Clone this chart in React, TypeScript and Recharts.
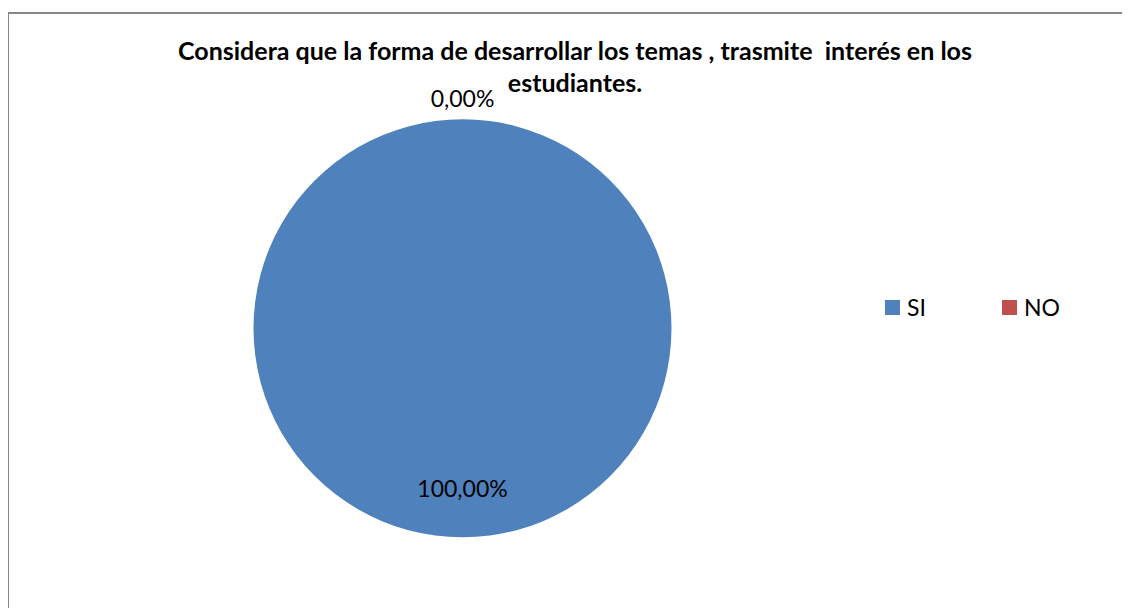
import { PieChart, Pie, Cell, Legend } from 'recharts'

// respuestas de la encuesta
const categories = ['SI', 'NO']
const values = [100, 0]
const colors = ['#4F81BD', '#C0504D']
const titleLines = [
  'Considera que la forma de desarrollar los temas , trasmite  interés en los',
  'estudiantes.',
]

const data = categories.map((name, i) => ({ name, value: values[i] }))
const total = values.reduce((a, b) => a + b, 0)
const RADIAN = Math.PI / 180
const font = 'Lato, "Open Sans", sans-serif'

function renderLabel(props: any) {
  const { cx, cy, midAngle, outerRadius, value, index } = props
  // SI va dentro del sector, NO fuera (sector vacio)
  const r = index === 0 ? outerRadius * 0.805 : outerRadius + 12.6
  const x = cx + r * Math.cos(-midAngle * RADIAN)
  const y = cy + r * Math.sin(-midAngle * RADIAN)
  const pct = ((value / total) * 100).toFixed(2).replace('.', ',') + '%'
  return (
    <text
      key={'lbl-' + index}
      x={x}
      y={y}
      textAnchor="middle"
      fill="#000"
      fontSize={23}
      fontFamily={font}
    >
      {pct}
    </text>
  )
}

function LegendContent(props: any) {
  const { payload = [] } = props
  // mantener el orden original SI, NO
  const items = categories
    .map((c) => payload.find((p: any) => p.value === c))
    .filter(Boolean)
  return (
    <div style={{ display: 'flex', fontFamily: font, fontSize: 23 }}>
      {items.map((p: any) => (
        <div
          key={p.value}
          style={{ width: 117, display: 'flex', alignItems: 'center' }}
        >
          <span
            style={{
              width: 15,
              height: 15,
              background: p.color,
              display: 'inline-block',
              marginRight: 7,
            }}
          />
          <span style={{ lineHeight: '24px' }}>{p.value}</span>
        </div>
      ))}
    </div>
  )
}

export default function App() {
  return (
    <div
      style={{
        position: 'relative',
        top: 4,
        left: -1,
        width: 1130,
        height: 600,
        border: '2px solid #868686',
        boxSizing: 'border-box',
        background: '#fff',
      }}
    >
      <div
        style={{
          position: 'absolute',
          left: 0,
          top: 0,
          width: 1132,
          textAlign: 'center',
          fontFamily: font,
          fontWeight: 'bold',
          fontSize: 25,
          color: '#000',
          pointerEvents: 'none',
        }}
      >
        {titleLines.map((t, i) => (
          <div
            key={i}
            style={{
              position: 'absolute',
              left: 0,
              width: '100%',
              top: 21 + i * 31.5,
              lineHeight: '30px',
              whiteSpace: 'pre',
            }}
          >
            {t}
          </div>
        ))}
      </div>
      <PieChart width={1126} height={596} margin={{ top: 0, right: 0, bottom: 0, left: 0 }}>
        <Pie
          data={data}
          dataKey="value"
          nameKey="name"
          cx={453.5}
          cy={314.3}
          outerRadius={209}
          startAngle={90}
          endAngle={-270}
          stroke="none"
          label={renderLabel}
          labelLine={false}
          isAnimationActive={false}
        >
          {data.map((d, i) => (
            <Cell key={d.name} fill={colors[i]} />
          ))}
        </Pie>
        <Legend
          content={<LegendContent />}
          wrapperStyle={{ position: 'absolute', left: 876, top: 281, width: 250 }}
        />
      </PieChart>
    </div>
  )
}
